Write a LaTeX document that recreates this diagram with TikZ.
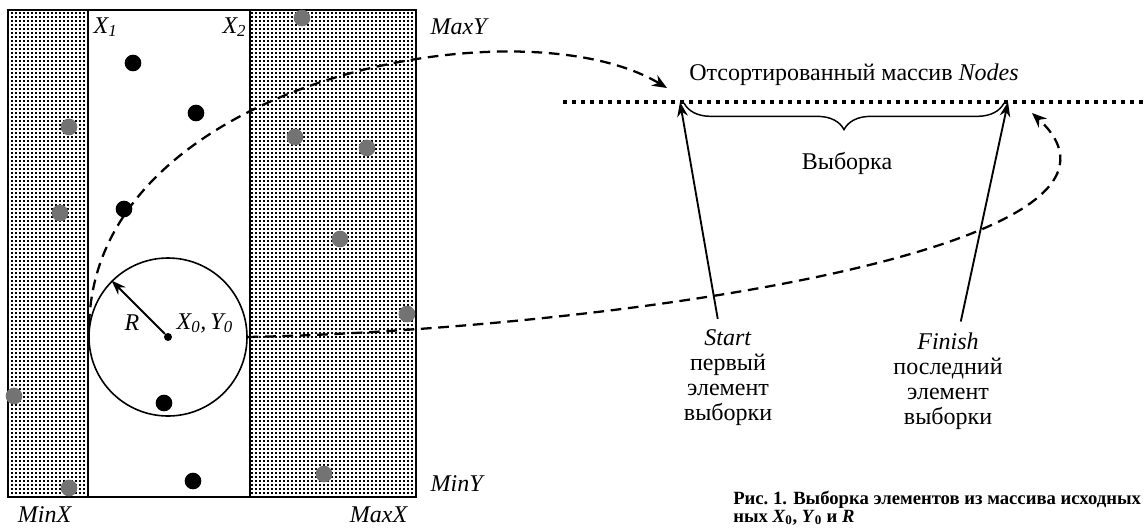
\documentclass[tikz,border=0pt]{standalone}
\usepackage{fontspec}
\setmainfont{Liberation Serif}
\usetikzlibrary{positioning}
\usetikzlibrary{arrows.meta}
\usetikzlibrary{patterns}
\usetikzlibrary{decorations.pathreplacing}
\definecolor{pointgray}{HTML}{737373}
\pgfdeclarepatternformonly{finedots}{\pgfqpoint{-1pt}{-1pt}}{\pgfqpoint{1pt}{1pt}}{\pgfqpoint{3pt}{3pt}}{
  \pgfpathrectangle{\pgfqpoint{-0.45pt}{-0.45pt}}{\pgfqpoint{0.9pt}{0.9pt}}
  \pgfusepath{fill}
}
\tikzset {
  % points that fall inside the strip X1..X2
  inpt/.style = {circle, fill=black, inner sep=0pt, minimum size=12.5pt},
  % points outside the strip
  outpt/.style = {circle, fill=pointgray, inner sep=0pt, minimum size=12.5pt},
  % shaded parts of the region
  shaded/.style = {pattern=finedots},
  border/.style = {line width=1.8pt},
  strip/.style = {line width=1.2pt},
  % dashed jumps into the sorted array
  jump/.style = {line width=1.7pt, dash pattern=on 8pt off 5pt, -{Stealth[length=11pt, width=9pt]}},
  ptr/.style = {line width=1.4pt, -{Stealth[length=11pt, width=8pt]}},
  lbl/.style = {font=\fontsize{18}{18.75}\selectfont},
  captext/.style = {anchor=base west, inner sep=0pt, font=\fontsize{14}{16}\bfseries\selectfont},
}

\begin{document}
\begin{tikzpicture}[x=0.75pt, y=-0.75pt]
  \useasboundingbox (0,0) rectangle (1144,529);

  % region MinX..MaxX, MinY..MaxY
  \fill[shaded] (8,10) rectangle (88,497);
  \fill[shaded] (250,10) rectangle (416,497);
  \draw[strip] (88,10) -- (88,497);
  \draw[strip] (250,10) -- (250,497);
  \draw[border] (8,10) rectangle (416,497);

  \node[lbl, anchor=west] (x1) at (89,27) {\textit{X\textsubscript{1}}};
  \node[lbl, anchor=east] (x2) at (251,27) {\textit{X\textsubscript{2}}};
  \node[lbl, anchor=west] (maxy) at (426,27) {\textit{MaxY}};
  \node[lbl, anchor=west] (miny) at (426,484) {\textit{MinY}};
  \node[lbl] (minx) at (45,515) {\textit{MinX}};
  \node[lbl] (maxx) at (379,515) {\textit{MaxX}};

  % search circle
  \node[draw, circle, strip, minimum size=118.5pt] (zone) at (168,337) {};
  \node[circle, fill=black, inner sep=0pt, minimum size=6pt] (c0) at (168,337) {};
  \draw[ptr] (c0) -- (zone.135);
  \node[lbl] (r) at (132,323) {\textit{R}};
  \node[lbl, anchor=west] (xy0) at (172,323) {\textit{X\textsubscript{0},\,Y\textsubscript{0}}};

  % points
  \node[inpt] (a) at (133,63) {};
  \node[inpt] (b) at (196,113) {};
  \node[inpt] (c) at (124,209) {};
  \node[inpt] (d) at (164,403) {};
  \node[inpt] (e) at (193,481) {};
  \node[outpt] (f) at (302,18) {};
  \node[outpt] (g) at (69,127) {};
  \node[outpt] (h) at (60,213) {};
  \node[outpt] (i) at (295,137) {};
  \node[outpt] (j) at (367,148) {};
  \node[outpt] (k) at (340,239) {};
  \node[outpt] (l) at (407,314) {};
  \node[outpt] (m) at (14,396) {};
  \node[outpt] (n) at (69,488) {};
  \node[outpt] (o) at (324,474) {};

  % sorted array Nodes
  \draw[line width=3pt, dash pattern=on 3pt off 3.75pt] (563,102) -- (1144,102);
  \node[lbl] (title) at (854,75) {Отсортированный массив \textit{Nodes}};
  \coordinate (s1) at (680,102);
  \coordinate (f1) at (1008,102);
  \coordinate (into) at (667,88);
  \coordinate (back) at (1032,113);

  \draw[line width=1.1pt, decorate, decoration={brace, mirror, amplitude=20pt}]
    (684,103) -- (1004,103);
  \node[lbl] (sel) at (847,163) {Выборка};

  \node[lbl, align=center, outer sep=5pt] (start) at (728,378)
    {\textit{Start}\\первый\\элемент\\выборки};
  \node[lbl, align=center, outer sep=5pt] (finish) at (948,381)
    {\textit{Finish}\\последний\\элемент\\выборки};
  \draw[ptr] (start) -- (s1);
  \draw[ptr] (finish) -- (f1);

  \draw[jump] (zone.171) .. controls (95,80) and (520,0) .. (into);
  \draw[jump] (zone.east) .. controls (600,330) and (1180,250) .. (back);

  % caption
  \node[captext] (cap1) at (733,504) {Рис.~1. Выборка элементов из массива исходных};
  \node[captext] (cap2) at (733,522) {ных \textit{X}\textsubscript{0}, \textit{Y}\textsubscript{0} и \textit{R}};
\end{tikzpicture}
\end{document}
